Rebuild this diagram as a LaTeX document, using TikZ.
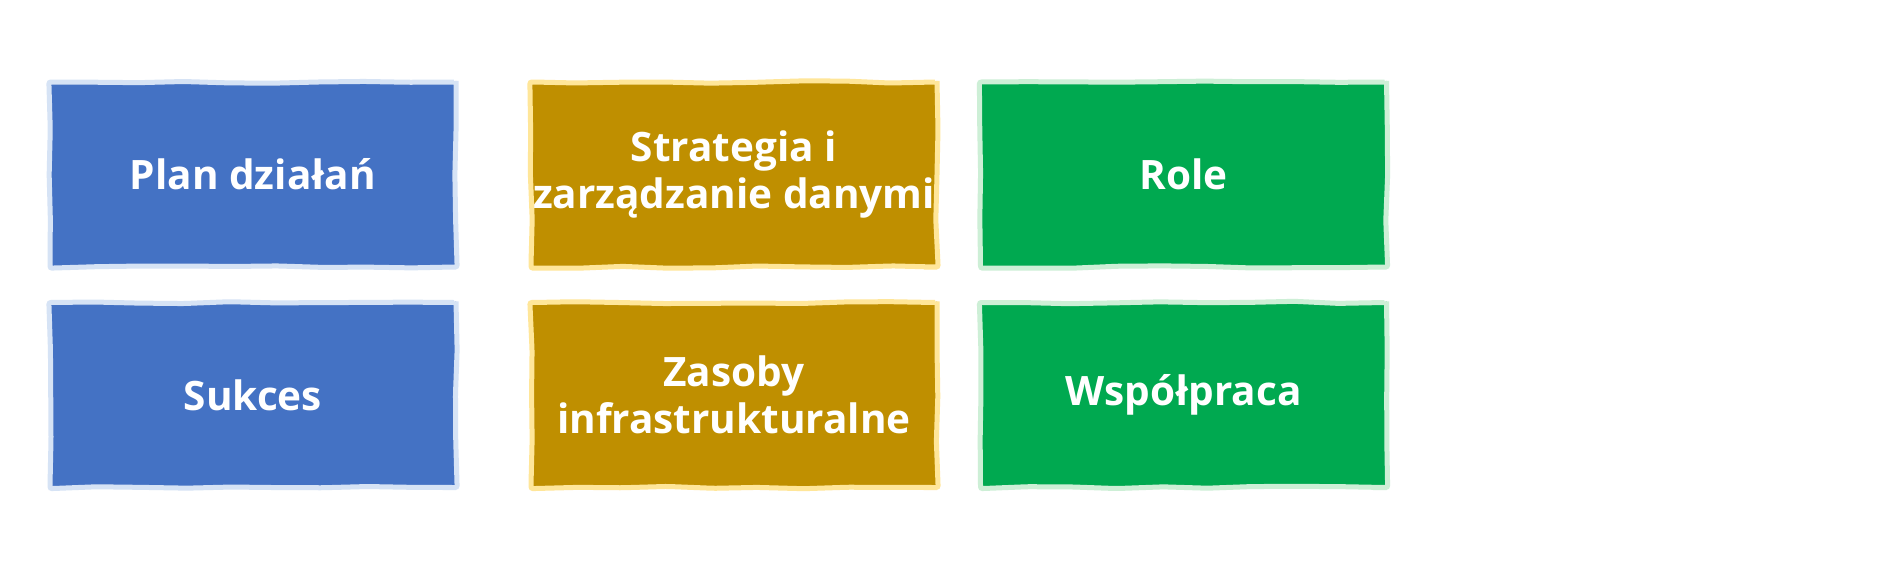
\documentclass[tikz,border=0pt]{standalone}
\usepackage{fontspec}
\setmainfont{Open Sans}
\usetikzlibrary{decorations.pathmorphing}
\definecolor{cblue}{HTML}{4472C4}
\definecolor{cblueb}{HTML}{D6E3F5}
\definecolor{cgold}{HTML}{BF8F00}
\definecolor{cgoldb}{HTML}{FFE699}
\definecolor{cgreen}{HTML}{00A950}
\definecolor{cgreenb}{HTML}{CDEFD6}
\tikzset{
  card/.style={rectangle, minimum width=406pt, minimum height=185pt, inner sep=0pt,
    line width=5pt, text=white, align=center,
    font=\fontsize{40.5}{47}\selectfont\bfseries,
    decorate, decoration={random steps, segment length=45pt, amplitude=1.2pt},
    rounded corners=2pt},
  bluecard/.style={card, fill=cblue, draw=cblueb},
  goldcard/.style={card, fill=cgold, draw=cgoldb},
  greencard/.style={card, fill=cgreen, draw=cgreenb}
}
\pgfmathsetseed{7}
\begin{document}
\begin{tikzpicture}[x=1pt,y=-1pt]
\useasboundingbox (0,0) rectangle (1899,560);
\fill[white] (0,0) rectangle (1899,560);
\node[bluecard] (plan) at (253,174.5) {Plan działań};
\node[goldcard] (strat) at (734,174.5) {Strategia i\\zarządzanie danymi};
\node[greencard] (role) at (1183.5,174.5) {Role};
\node[bluecard] (suk) at (253,395) {Sukces};
\node[goldcard] (zas) at (734,395) {Zasoby\\infrastrukturalne};
\node[greencard] (wsp) at (1183.5,395) {Współpraca};
\end{tikzpicture}
\end{document}
